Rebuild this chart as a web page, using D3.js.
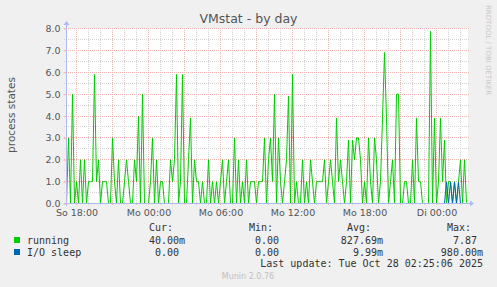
<!DOCTYPE html>
<html>
<head>
<meta charset="utf-8">
<script src="https://cdn.jsdelivr.net/npm/d3@7"></script>
<style>
  body { margin: 0; background: #f0f0f0; }
  svg { display: block; }
</style>
</head>
<body>
<div id="chart"></div>
<script>
// values, one every 10 minutes from So 17:10 to Di 02:30

var running = [
  0, 3, 0, 5, 0, 1, 0, 2, 0, 2,
  0, 1, 1, 1, 5.9, 1, 2, 0, 1, 1,
  1, 0, 0, 3, 1, 0, 2, 0, 0, 1,
  2, 1, 0, 0, 2, 1, 4, 0, 5, 0,
  0, 0, 1, 3, 0, 2, 0, 1, 1, 0,
  0, 0, 2, 1, 2, 5.9, 0, 1, 5.9, 0,
  0, 2, 3.9, 0, 2, 1, 1, 0, 1, 0,
  0, 2, 0, 1, 0, 1, 0, 1, 2, 0,
  1, 2, 0, 0, 3, 0, 2, 0, 1, 0,
  2, 0, 1, 1, 1, 0, 1, 1, 1, 3,
  0, 2, 3, 1, 5, 0, 3, 1, 0, 1,
  2, 4.9, 0, 5.9, 0, 1, 0, 0, 2, 0,
  1, 0, 2, 1, 0, 1, 1, 1, 1, 2,
  0, 1, 2, 1, 0, 3.9, 1, 2, 1, 0,
  1, 2.9, 0, 2.9, 2, 3, 3, 2, 0, 1,
  0, 3, 1, 0, 3, 2, 0, 1, 3.9, 6.9,
  3.9, 0, 1, 2, 0, 5, 5, 0, 0, 1,
  1, 0, 0, 2, 0, 3.9, 1, 1, 0, 0,
  0, 0, 7.87, 0, 3.9, 0, 1, 3.9, 1, 2.9,
  0, 1, 1, 0, 1, 0, 1, 2, 0, 2,
  0.04
];

var ioSleep = [
  0, 0, 0, 0, 0, 0, 0, 0, 0, 0, 0, 0, 0, 0, 0, 0, 0, 0, 0, 0,
  0, 0, 0, 0, 0, 0, 0, 0, 0, 0, 0, 0, 0, 0, 0, 0, 0, 0, 0, 0,
  0, 0, 0, 0, 0, 0, 0, 0, 0, 0, 0, 0, 0, 0, 0, 0, 0, 0, 0, 0,
  0, 0, 0, 0, 0, 0, 0, 0, 0, 0, 0, 0, 0, 0, 0, 0, 0, 0, 0, 0,
  0, 0, 0, 0, 0, 0, 0, 0, 0, 0, 0, 0, 0, 0, 0, 0, 0, 0, 0, 0,
  0, 0, 0, 0, 0, 0, 0, 0, 0, 0, 0, 0, 0, 0, 0, 0, 0, 0, 0, 0,
  0, 0, 0, 0, 0, 0, 0, 0, 0, 0, 0, 0, 0, 0, 0, 0, 0, 0, 0, 0,
  0, 0, 0, 0, 0, 0, 0, 0, 0, 0, 0, 0, 0, 0, 0, 0, 0, 0, 0, 0,
  0, 0, 0, 0, 0, 0, 0, 0, 0, 0, 0, 0, 0, 0, 0, 0, 0, 0, 0, 0,
  0, 0, 0, 0, 0, 0, 0, 0, 0, 0, 0.98, 0, 0.98, 0, 0.98, 0, 0.98, 0, 0, 0,
  0
];

var seriesNames = ["running", "I/O sleep"];
var seriesColors = ["#00cc00", "#0066b3"];

var legendCur = ["40.00m", "0.00"];
var legendMin = ["0.00", "0.00"];
var legendAvg = ["827.69m", "9.99m"];
var legendMax = ["7.87", "980.00m"];

var yTicks = [0, 1, 2, 3, 4, 5, 6, 7, 8];
var xLabels = ["So 18:00", "Mo 00:00", "Mo 06:00", "Mo 12:00", "Mo 18:00", "Di 00:00"];
var xLabelTimes = [
  Date.UTC(2025, 9, 26, 18), Date.UTC(2025, 9, 27, 0), Date.UTC(2025, 9, 27, 6),
  Date.UTC(2025, 9, 27, 12), Date.UTC(2025, 9, 27, 18), Date.UTC(2025, 9, 28, 0)
].map(function(t) { return new Date(t); });

var startTime = new Date(Date.UTC(2025, 9, 26, 17, 10));
var endTime = new Date(Date.UTC(2025, 9, 28, 2, 30));
var step = 10 * 60 * 1000;

// svg size and plot box

var svgWidth = 497;
var svgHeight = 287;
var plot = { left: 66.5, right: 466.5, top: 28.5, bottom: 203.5 };

var svg = d3.select("#chart")
  .append("svg")
  .attr("width", svgWidth)
  .attr("height", svgHeight)
  .style("font-family", "'DejaVu Sans', sans-serif");

svg.append("rect")
  .attr("width", svgWidth).attr("height", svgHeight)
  .attr("fill", "#f0f0f0");

svg.append("rect")
  .attr("x", 67).attr("y", 28)
  .attr("width", 401).attr("height", 176)
  .attr("fill", "#ffffff");

var xScale = d3.scaleUtc()
  .domain([startTime, endTime])
  .range([plot.left, plot.right]);

var yScale = d3.scaleLinear()
  .domain([0, 8])
  .range([plot.bottom, plot.top]);

function crisp(v) { return Math.round(v - 0.5) + 0.5; }

// grid

var minorColor = "#d4d4d4";
var majorColor = "#f4b4b4";
var grid = svg.append("g");

var halfSteps = d3.range(0.5, 8, 1);
grid.selectAll(".hminor").data(halfSteps).enter()
  .append("line")
  .attr("x1", 64).attr("x2", 469)
  .attr("y1", d => crisp(yScale(d))).attr("y2", d => crisp(yScale(d)))
  .attr("stroke", minorColor).attr("stroke-dasharray", "1,1");

var hours = d3.utcHour.range(startTime, endTime);
grid.selectAll(".vminor").data(hours.filter(h => h.getUTCHours() % 3 != 0)).enter()
  .append("line")
  .attr("x1", d => crisp(xScale(d))).attr("x2", d => crisp(xScale(d)))
  .attr("y1", 28).attr("y2", 206)
  .attr("stroke", minorColor).attr("stroke-dasharray", "1,1");

grid.selectAll(".hmajor").data(yTicks.slice(1)).enter()
  .append("line")
  .attr("x1", 64).attr("x2", 469)
  .attr("y1", d => crisp(yScale(d))).attr("y2", d => crisp(yScale(d)))
  .attr("stroke", majorColor).attr("stroke-dasharray", "1,1");

grid.selectAll(".vmajor").data(hours.filter(h => h.getUTCHours() % 3 == 0)).enter()
  .append("line")
  .attr("x1", d => crisp(xScale(d))).attr("x2", d => crisp(xScale(d)))
  .attr("y1", 28).attr("y2", 206)
  .attr("stroke", majorColor).attr("stroke-dasharray", "1,1");

// lines

var timeAt = function(i) { return new Date(startTime.getTime() + i * step); };

var line = d3.line()
  .x((d, i) => xScale(timeAt(i)))
  .y(d => yScale(d));

[running, ioSleep].forEach(function(series, k) {
  svg.append("path")
    .datum(series)
    .attr("d", line)
    .attr("fill", "none")
    .attr("stroke", seriesColors[k])
    .attr("stroke-width", 1);
});

// axes

var axisColor = "#b0b8f0";

svg.append("line")
  .attr("x1", 64).attr("x2", 470)
  .attr("y1", plot.bottom).attr("y2", plot.bottom)
  .attr("stroke", axisColor);
svg.append("line")
  .attr("x1", plot.left).attr("x2", plot.left)
  .attr("y1", 206).attr("y2", 25)
  .attr("stroke", axisColor);
svg.append("path")
  .attr("d", "M470,200.5 L474,203.5 L470,206.5 Z")
  .attr("fill", axisColor);
svg.append("path")
  .attr("d", "M63.5,25 L66.5,21 L69.5,25 Z")
  .attr("fill", axisColor);

var yAxis = d3.axisLeft(yScale)
  .tickValues(yTicks)
  .tickFormat(d3.format(".1f"))
  .tickSize(3)
  .tickPadding(3);

var yAxisG = svg.append("g")
  .attr("transform", "translate(" + plot.left + ",0)")
  .call(yAxis);
yAxisG.select(".domain").remove();
yAxisG.selectAll("line").attr("stroke", majorColor);
yAxisG.selectAll("text")
  .attr("fill", "#555").attr("font-size", 9.5)
  .attr("font-family", "'DejaVu Sans', sans-serif");

var xAxis = d3.axisBottom(xScale)
  .tickValues(xLabelTimes)
  .tickFormat((d, i) => xLabels[i])
  .tickSize(0)
  .tickPadding(6);

var xAxisG = svg.append("g")
  .attr("transform", "translate(0," + plot.bottom + ")")
  .call(xAxis);
xAxisG.select(".domain").remove();
xAxisG.selectAll("text")
  .attr("fill", "#555").attr("font-size", 9.5)
  .attr("font-family", "'DejaVu Sans', sans-serif");

// title and side texts

svg.append("text")
  .attr("x", 248.5).attr("y", 23)
  .attr("text-anchor", "middle")
  .attr("font-size", 12.5)
  .attr("fill", "#555")
  .text("VMstat - by day");

svg.append("text")
  .attr("transform", "translate(15,115) rotate(-90)")
  .attr("text-anchor", "middle")
  .attr("font-size", 10.5)
  .attr("fill", "#555")
  .text("process states");

svg.append("text")
  .attr("transform", "translate(486,5) rotate(90)")
  .attr("text-anchor", "start")
  .attr("font-size", 7)
  .attr("fill", "#c8c8c8")
  .text("RRDTOOL / TOBI OETIKER");

// legend

var legend = svg.append("g")
  .style("font-family", "'DejaVu Sans Mono', monospace")
  .attr("font-size", 10)
  .attr("fill", "#333");

var colRight = [185, 285, 383, 483];
var headers = ["Cur:", "Min:", "Avg:", "Max:"];
headers.forEach(function(h, j) {
  legend.append("text")
    .attr("x", colRight[j] - 12).attr("y", 230.5)
    .attr("text-anchor", "end")
    .text(h);
});

var rowY = [243.5, 255.5];
seriesNames.forEach(function(name, k) {
  legend.append("rect")
    .attr("x", 14).attr("y", rowY[k] - 6.5)
    .attr("width", 6).attr("height", 6)
    .attr("fill", seriesColors[k]);
  legend.append("text")
    .attr("x", 27).attr("y", rowY[k])
    .text(name);
  [legendCur, legendMin, legendAvg, legendMax].forEach(function(col, j) {
    var v = col[k];
    var hasUnit = /[a-zA-Z]$/.test(v);
    legend.append("text")
      .attr("x", colRight[j] - (hasUnit ? 0 : 6)).attr("y", rowY[k])
      .attr("text-anchor", "end")
      .text(v);
  });
});

legend.append("text")
  .attr("x", 483).attr("y", 267)
  .attr("text-anchor", "end")
  .text("Last update: Tue Oct 28 02:25:06 2025");

svg.append("text")
  .attr("x", 248).attr("y", 279)
  .attr("text-anchor", "middle")
  .attr("font-size", 8)
  .attr("fill", "#c0c0c0")
  .text("Munin 2.0.76");
</script>
</body>
</html>
